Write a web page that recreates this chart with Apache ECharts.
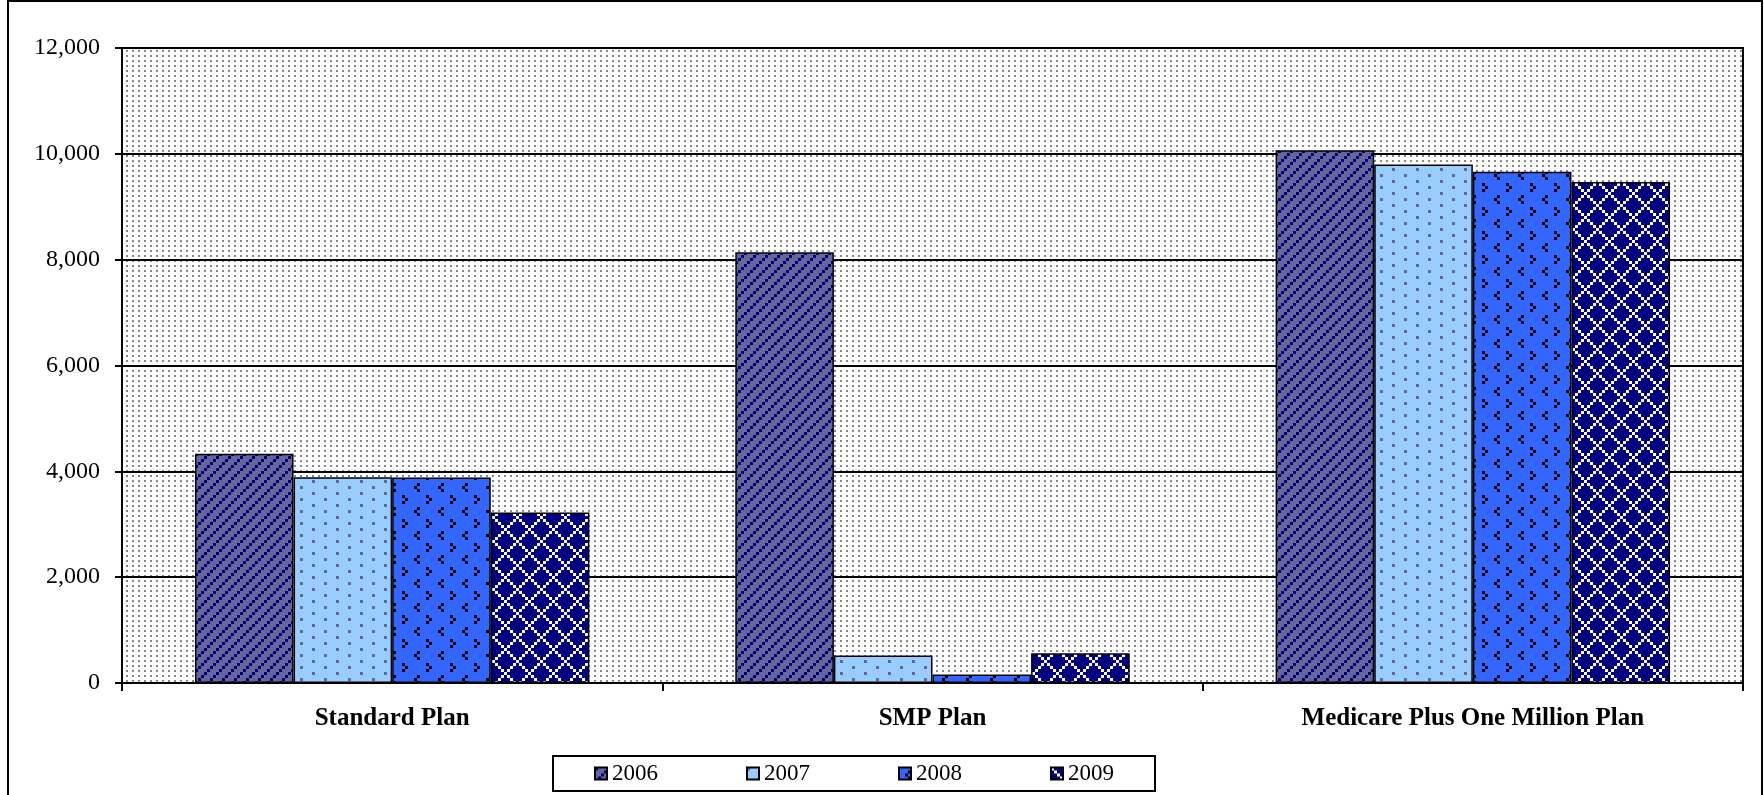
<!DOCTYPE html>
<html>
<head>
<meta charset="utf-8">
<script src="https://cdn.jsdelivr.net/npm/echarts@6/dist/echarts.min.js"></script>
<style>
  html, body { margin: 0; padding: 0; background: #ffffff; }
  #chart { width: 1764px; height: 795px; }
</style>
</head>
<body>
<div id="chart"></div>
<script>
// Plans on the category axis
const categories = ['Standard Plan', 'SMP Plan', 'Medicare Plus One Million Plan'];
// One series per year
const years = ['2006', '2007', '2008', '2009'];
const values2006 = [4330, 8140, 10070];
const values2007 = [3890, 520, 9800];
const values2008 = [3885, 160, 9660];
const values2009 = [3220, 560, 9470];
// Value axis ticks
const yMin = 0;
const yMax = 12000;
const yStep = 2000;

const FONT = '"Liberation Serif", "Times New Roman", serif';

// Small repeating canvas tiles used as hatch fills
function tile(w, h, bg, paint) {
  const c = document.createElement('canvas');
  c.width = w; c.height = h;
  const g = c.getContext('2d');
  g.fillStyle = bg;
  g.fillRect(0, 0, w, h);
  paint(g);
  return { image: c, repeat: 'repeat' };
}

// 2006: navy upward diagonal on slate blue
const fill2006 = tile(12, 12, '#666699', g => {
  g.fillStyle = '#000080';
  for (let by = 0; by < 4; by++)
    for (let bx = 0; bx < 4; bx++)
      if ((bx + by) % 4 === 0) g.fillRect(bx * 3, by * 3, 3, 3);
});
// 2007: sparse slate dots on light blue
const fill2007 = tile(24, 12, '#99CCFF', g => {
  g.fillStyle = '#666699';
  g.fillRect(0, 0, 3, 3);
  g.fillRect(12, 6, 3, 3);
});
// 2008: black chevrons on bright blue
const fill2008 = tile(24, 24, '#3366FF', g => {
  g.fillStyle = '#000000';
  // "<"
  g.fillRect(9, 3, 3, 3); g.fillRect(6, 6, 3, 3); g.fillRect(9, 9, 3, 3);
  // ">"
  g.fillRect(18, 15, 3, 3); g.fillRect(21, 18, 3, 3); g.fillRect(18, 21, 3, 3);
});
// 2009: white outlined diamonds on navy
const fill2009 = tile(24, 24, '#000080', g => {
  g.fillStyle = '#FFFFFF';
  for (let by = 0; by < 8; by++)
    for (let bx = 0; bx < 8; bx++)
      if ((bx - by + 8) % 8 === 0 || (bx + by) % 8 === 0) g.fillRect(bx * 3, by * 3, 3, 3);
});
// Plot background: grey dots on white
const fillPlot = tile(6, 5, '#FFFFFF', g => {
  g.fillStyle = '#888888';
  g.fillRect(0, 0, 2, 2);
});

const fills = [fill2006, fill2007, fill2008, fill2009];
const seriesValues = [values2006, values2007, values2008, values2009];

const chart = echarts.init(document.getElementById('chart'), null, { renderer: 'canvas' });

chart.setOption({
  animation: false,
  backgroundColor: '#FFFFFF',
  textStyle: { fontFamily: FONT, color: '#000' },
  grid: {
    left: 122, right: 21, top: 48, bottom: 112,
    show: true,
    backgroundColor: fillPlot,
    borderColor: '#000',
    borderWidth: 2
  },
  graphic: [{
    type: 'rect',
    silent: true,
    shape: { x: 8, y: 1, width: 1754, height: 830 },
    style: { fill: 'none', stroke: '#000', lineWidth: 2 }
  }],
  legend: {
    data: years,
    left: 553, top: 756,
    itemWidth: 12, itemHeight: 12,
    itemGap: 88,
    padding: [6, 41, 6, 41],
    borderColor: '#000', borderWidth: 2,
    icon: 'rect',
    selectedMode: false,
    textStyle: { fontFamily: FONT, fontSize: 23, color: '#000' }
  },
  xAxis: {
    type: 'category',
    data: categories,
    axisLine: { show: true, lineStyle: { color: '#000', width: 2 } },
    axisTick: { show: true, length: 8, lineStyle: { color: '#000', width: 2 } },
    axisLabel: { fontFamily: FONT, fontSize: 25, fontWeight: 'bold', color: '#000', margin: 23 },
    splitLine: { show: false }
  },
  yAxis: {
    type: 'value',
    min: yMin, max: yMax, interval: yStep,
    axisLine: { show: true, lineStyle: { color: '#000', width: 2 } },
    axisTick: { show: true, length: 7, lineStyle: { color: '#000', width: 2 } },
    axisLabel: {
      fontFamily: FONT, fontSize: 24, color: '#000', margin: 22,
      formatter: v => v.toLocaleString('en-US')
    },
    splitLine: { show: true, lineStyle: { color: '#000', width: 2 } }
  },
  series: years.map((y, i) => ({
    name: y,
    type: 'bar',
    data: seriesValues[i],
    barGap: '0%',
    barCategoryGap: '27%',
    itemStyle: { color: fills[i], borderColor: '#000', borderWidth: 1.5 },
    emphasis: { disabled: true }
  }))
});
</script>
</body>
</html>
